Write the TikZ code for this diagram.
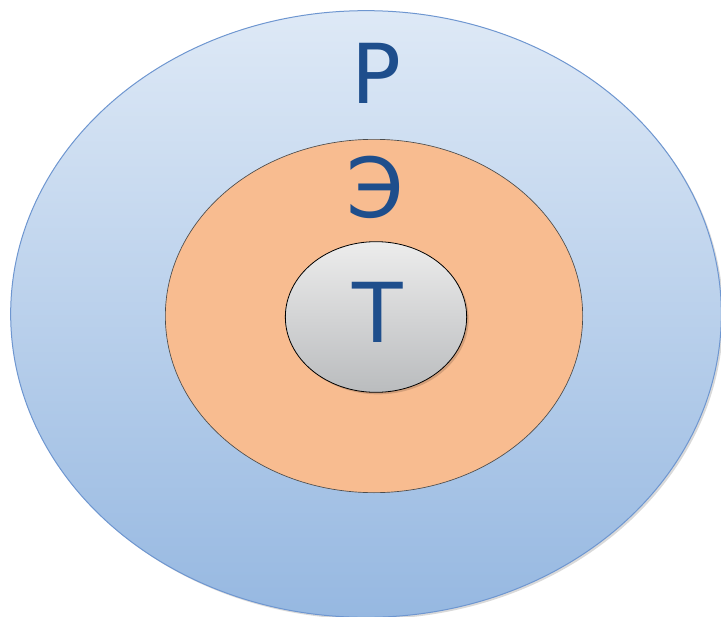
\documentclass[tikz,border=0pt]{standalone}
\usepackage{fontspec}
\setmainfont{DejaVu Sans}
\usetikzlibrary{shapes.geometric}

\definecolor{letterblue}{RGB}{30,78,140}
\definecolor{ringtop}{RGB}{222,233,246}
\definecolor{ringbottom}{RGB}{150,184,225}
\definecolor{ringline}{RGB}{110,150,208}
\definecolor{peach}{RGB}{248,188,144}
\definecolor{coretop}{RGB}{236,236,236}
\definecolor{corebottom}{RGB}{186,188,190}

\tikzset{every picture/.style={line width=0.75pt}}
\tikzset{
  oval/.style={ellipse, inner sep=0pt},
  letter/.style={inner sep=0pt, text=letterblue, font=\fontsize{62}{62}\selectfont}
}

\begin{document}
\begin{tikzpicture}[x=0.75pt,y=0.75pt,yscale=-1,xscale=1]
\useasboundingbox (0,0) rectangle (721,617);

%Shape: Ellipse [id:outer]
\node [oval, minimum width=533pt, minimum height=455pt, fill=black, opacity=0.15] at (368,316) {};
\node [oval, minimum width=533pt, minimum height=455pt, draw=ringline, top color=ringtop, bottom color=ringbottom] (realm) at (366,314) {};
%Shape: Ellipse [id:middle]
\node [oval, minimum width=313pt, minimum height=265pt, draw=black!70, line width=0.5pt, fill=peach] (sphere) at (374,316) {};
%Shape: Ellipse [id:inner]
\node [oval, minimum width=136pt, minimum height=113pt, fill=black, opacity=0.15] at (378,319) {};
\node [oval, minimum width=136pt, minimum height=113pt, draw=black, line width=0.6pt, top color=coretop, bottom color=corebottom] (core) at (376,317) {};

% Text Node
\node [letter] (p) at (376,73) {Р};
% Text Node
\node [letter] (e) at (375,187) {Э};
% Text Node
\node [letter] (t) at (378,312) {Т};

\end{tikzpicture}
\end{document}
